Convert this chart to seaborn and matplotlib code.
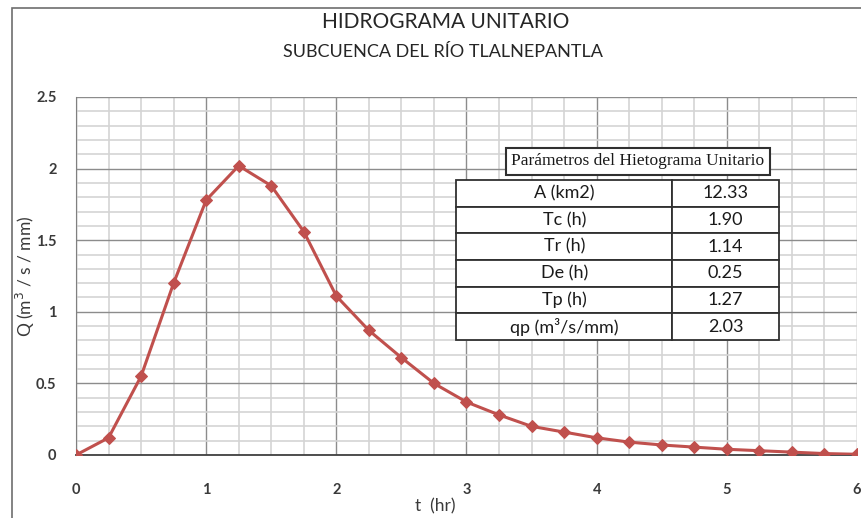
import matplotlib
matplotlib.use('Agg')
import matplotlib.pyplot as plt
import seaborn as sns
import pandas as pd
from matplotlib.ticker import MultipleLocator

# Unit hydrograph ordinates
t_hr = [0, 0.25, 0.5, 0.75, 1.0, 1.25, 1.5, 1.75, 2.0, 2.25, 2.5, 2.75, 3.0,
        3.25, 3.5, 3.75, 4.0, 4.25, 4.5, 4.75, 5.0, 5.25, 5.5, 5.75, 6.0]
q_val = [0, 0.12, 0.55, 1.20, 1.78, 2.02, 1.88, 1.56, 1.11, 0.87, 0.68, 0.50, 0.37,
         0.28, 0.20, 0.16, 0.12, 0.09, 0.07, 0.055, 0.04, 0.03, 0.02, 0.01, 0.005]

# Parameter table
param_names = ['A (km2)', 'Tc (h)', 'Tr (h)', 'De (h)', 'Tp (h)', 'qp (m³/s/mm)']
param_values = ['12.33', '1.90', '1.14', '0.25', '1.27', '2.03']

df = pd.DataFrame({'t': t_hr, 'q': q_val})

sns.set_style("white")
plt.rcParams['font.family'] = ['Lato', 'DejaVu Sans']

red = '#c0504d'
txt = '#3a3a3a'

fig = plt.figure(figsize=(8.62, 5.18), dpi=100)
ax = fig.add_axes([76 / 862, 1 - 455 / 518, 781 / 862, 358 / 518])

# Excel-like grid
ax.xaxis.set_major_locator(MultipleLocator(1))
ax.xaxis.set_minor_locator(MultipleLocator(0.25))
ax.yaxis.set_major_locator(MultipleLocator(0.5))
ax.yaxis.set_minor_locator(MultipleLocator(0.1))
ax.grid(which='minor', color='#d4d4d4', linewidth=1.2)
ax.grid(which='major', color='#8c8c8c', linewidth=1.0)
ax.set_axisbelow(True)

sns.lineplot(data=df, x='t', y='q', ax=ax, color=red, linewidth=2.2,
             marker='D', markersize=6.5, markeredgecolor=red, zorder=5)

ax.set_xlim(0, 6)
ax.set_ylim(0, 2.5)
for s in ['top', 'right']:
    ax.spines[s].set_visible(False)
ax.spines['left'].set_color('#808080')
ax.spines['bottom'].set_color('#404040')
ax.spines['bottom'].set_linewidth(1.3)
ax.tick_params(which='both', length=0)
ax.tick_params(axis='x', pad=20)
ax.tick_params(axis='y', pad=14)
ax.set_xticks([0, 1, 2, 3, 4, 5, 6])
ax.set_xticklabels(['0', '1', '2', '3', '4', '5', '6'])
ax.set_yticks([0, 0.5, 1, 1.5, 2, 2.5])
ax.set_yticklabels(['0', '0.5', '1', '1.5', '2', '2.5'])
for lab in ax.get_xticklabels() + ax.get_yticklabels():
    lab.set_fontsize(10.5)
    lab.set_fontweight('bold')
    lab.set_color(txt)
ax.set_xlabel('t  (hr)', fontsize=12.5, color=txt)
ax.set_ylabel('Q (m$^3$ / s / mm)', fontsize=12.5, color=txt)
ax.xaxis.set_label_coords(0.46, -0.12)
ax.yaxis.set_label_coords(-0.05, 0.5)

# Titles
fig.text(446 / 862, 1 - 22 / 518, 'HIDROGRAMA UNITARIO', ha='center', va='center',
         fontsize=15, color='#262626')
fig.text(443 / 862, 1 - 52 / 518, 'SUBCUENCA DEL RÍO TLALNEPANTLA', ha='center', va='center',
         fontsize=13, color='#262626')

# Outer border of the chart area
border = plt.Rectangle((12 / 862, -0.05), 1.0, 1 - 8 / 518 + 0.05, transform=fig.transFigure,
                       fill=False, edgecolor='#6e6e6e', linewidth=1.2, zorder=0)
fig.add_artist(border)

# Parameter table title
ax.text(0.7195, 0.82, 'Parámetros del Hietograma Unitario', transform=ax.transAxes,
        ha='center', va='center', fontsize=12.5, family='Liberation Serif', color='#1a1a1a',
        bbox=dict(boxstyle='square,pad=0.3', facecolor='white', edgecolor='#303030', linewidth=1.5),
        zorder=10)

# Parameter table
tbl = ax.table(cellText=[[n, v] for n, v in zip(param_names, param_values)],
               colWidths=[0.669, 0.331], cellLoc='center',
               bbox=[0.487, 0.321, 0.413, 0.447], zorder=10)
tbl.auto_set_font_size(False)
for (r, c), cell in tbl.get_celld().items():
    cell.set_edgecolor('#303030')
    cell.set_linewidth(1.3)
    cell.set_facecolor('white')
    cell.get_text().set_fontsize(13)
    cell.get_text().set_color('#1a1a1a')

fig.savefig('out.png', dpi=100)
